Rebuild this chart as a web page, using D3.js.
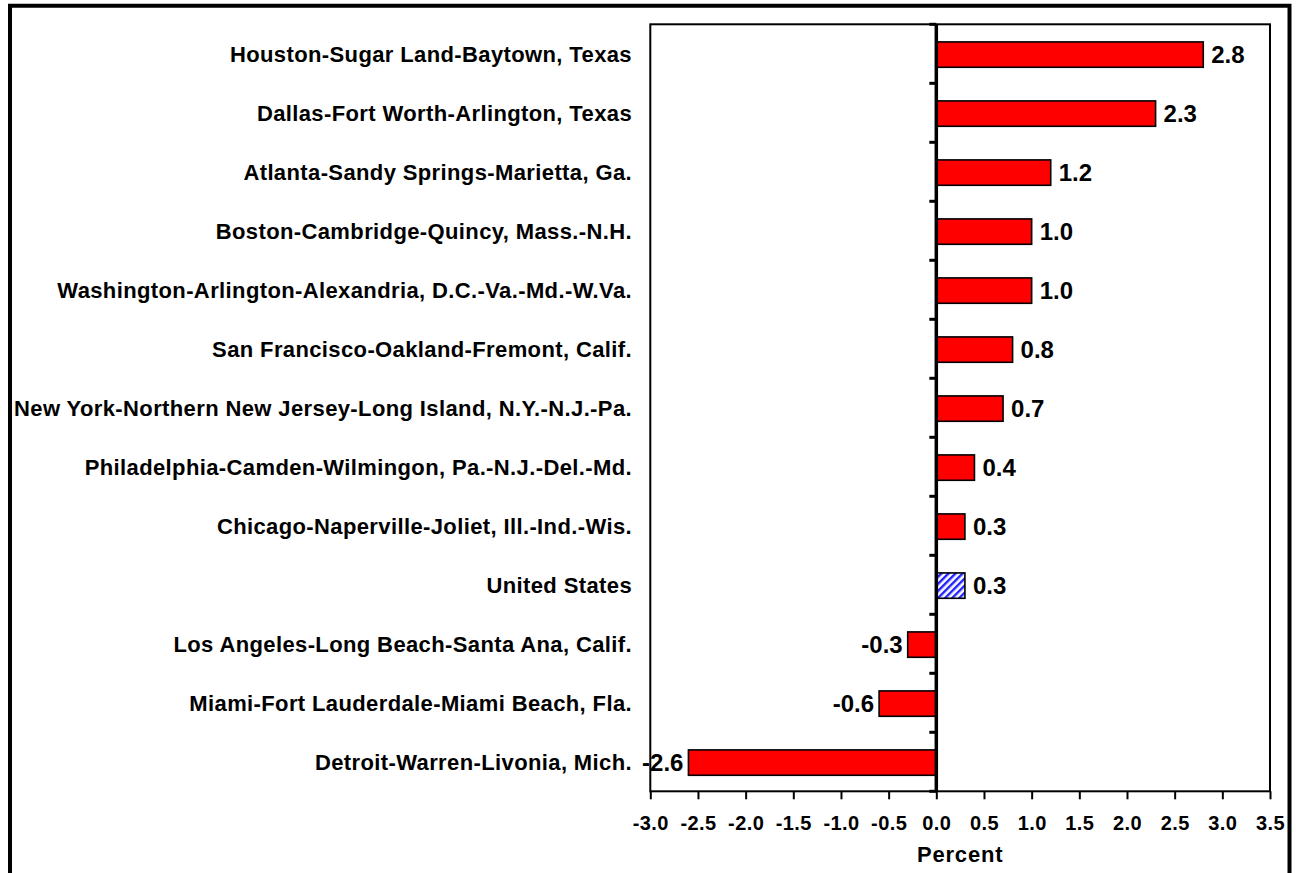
<!DOCTYPE html>
<html>
<head>
<meta charset="utf-8">
<script src="https://cdn.jsdelivr.net/npm/d3@7"></script>
<style>
  html, body { margin: 0; padding: 0; background: #fff; }
  svg { display: block; }
  text { font-family: "Liberation Sans", Arial, sans-serif; font-weight: bold; fill: #000; }
</style>
</head>
<body>
<svg id="chart" width="1296" height="873"></svg>
<script>
// Employment change by metropolitan area, percent
const categories = [
  "Houston-Sugar Land-Baytown, Texas",
  "Dallas-Fort Worth-Arlington, Texas",
  "Atlanta-Sandy Springs-Marietta, Ga.",
  "Boston-Cambridge-Quincy, Mass.-N.H.",
  "Washington-Arlington-Alexandria, D.C.-Va.-Md.-W.Va.",
  "San Francisco-Oakland-Fremont, Calif.",
  "New York-Northern New Jersey-Long Island, N.Y.-N.J.-Pa.",
  "Philadelphia-Camden-Wilmingon, Pa.-N.J.-Del.-Md.",
  "Chicago-Naperville-Joliet, Ill.-Ind.-Wis.",
  "United States",
  "Los Angeles-Long Beach-Santa Ana, Calif.",
  "Miami-Fort Lauderdale-Miami Beach, Fla.",
  "Detroit-Warren-Livonia, Mich."
];
const values = [2.8, 2.3, 1.2, 1.0, 1.0, 0.8, 0.7, 0.4, 0.3, 0.3, -0.3, -0.6, -2.6];
const nationalCategory = "United States";
const xTicks = [-3.0, -2.5, -2.0, -1.5, -1.0, -0.5, 0.0, 0.5, 1.0, 1.5, 2.0, 2.5, 3.0, 3.5];
const xTitle = "Percent";

const data = categories.map((c, i) => ({ name: c, value: values[i] }));

// Number format with a plain hyphen for negatives
const locale = d3.formatLocale({ decimal: ".", thousands: ",", grouping: [3], currency: ["$", ""], minus: "-" });
const fmt = locale.format(".1f");

const svg = d3.select("#chart");

// Hatched fill for the national total
const defs = svg.append("defs");
const pat = defs.append("pattern")
  .attr("id", "hatch")
  .attr("patternUnits", "userSpaceOnUse")
  .attr("width", 5).attr("height", 5)
  .attr("patternTransform", "rotate(45)");
pat.append("rect").attr("width", 5).attr("height", 5).attr("fill", "#fff");
pat.append("rect").attr("x", 0).attr("y", 0).attr("width", 2.4).attr("height", 5).attr("fill", "#1f1fff");

// Outer frame
svg.append("rect")
  .attr("x", 10).attr("y", 5.75)
  .attr("width", 1279.5).attr("height", 900)
  .attr("fill", "none").attr("stroke", "#000").attr("stroke-width", 4);

const plot = { left: 650.3, right: 1270, top: 24.3, bottom: 791.3 };

const x = d3.scaleLinear().domain([-3, 3.5]).range([plot.left, plot.right]);
const y = d3.scaleBand().domain(categories).range([plot.top + 0.8, plot.bottom + 0.8]).padding(0);
const barH = y.bandwidth() * 0.43;

// Plot area frame
svg.append("rect")
  .attr("x", plot.left).attr("y", plot.top)
  .attr("width", plot.right - plot.left).attr("height", plot.bottom - plot.top)
  .attr("fill", "none").attr("stroke", "#000").attr("stroke-width", 2);

// Bars
svg.append("g").selectAll("rect")
  .data(data)
  .join("rect")
  .attr("x", d => x(Math.min(0, d.value)))
  .attr("width", d => Math.abs(x(d.value) - x(0)))
  .attr("y", d => y(d.name) + (y.bandwidth() - barH) / 2)
  .attr("height", barH)
  .attr("fill", d => d.name === nationalCategory ? "url(#hatch)" : "#ff0000")
  .attr("stroke", "#000")
  .attr("stroke-width", 1.6);

// Zero line with category separators
const zeroX = x(0);
svg.append("line")
  .attr("x1", zeroX).attr("x2", zeroX)
  .attr("y1", plot.top).attr("y2", plot.bottom)
  .attr("stroke", "#000").attr("stroke-width", 3.5);

const sepY = categories.map(c => y(c) - 0.8).concat([plot.bottom]);
svg.append("g").selectAll("line")
  .data(sepY)
  .join("line")
  .attr("x1", zeroX - 7).attr("x2", zeroX)
  .attr("y1", d => d).attr("y2", d => d)
  .attr("stroke", "#000").attr("stroke-width", 3);

// Bottom axis
const xAxis = d3.axisBottom(x)
  .tickValues(xTicks)
  .tickFormat(fmt)
  .tickSize(8)
  .tickPadding(17);
const gx = svg.append("g")
  .attr("transform", `translate(0,${plot.bottom})`)
  .call(xAxis);
gx.select(".domain").remove();
gx.selectAll(".tick line").attr("stroke", "#000").attr("stroke-width", 2);
gx.selectAll(".tick text")
  .style("font-family", '"Liberation Sans", Arial, sans-serif')
  .style("font-weight", "bold")
  .style("font-size", "20px")
  .style("letter-spacing", "0.4px")
  .attr("fill", "#000");

svg.append("text")
  .attr("x", (plot.left + plot.right) / 2)
  .attr("y", 862)
  .attr("text-anchor", "middle")
  .style("font-size", "22px")
  .style("letter-spacing", "0.8px")
  .text(xTitle);

// Category labels
svg.append("g").selectAll("text")
  .data(data)
  .join("text")
  .attr("x", 632)
  .attr("y", d => y(d.name) + y.bandwidth() / 2)
  .attr("dy", "0.35em")
  .attr("text-anchor", "end")
  .style("font-size", "22px")
  .style("letter-spacing", "0.38px")
  .text(d => d.name);

// Value labels
svg.append("g").selectAll("text")
  .data(data)
  .join("text")
  .attr("x", d => d.value >= 0 ? x(d.value) + 8 : x(d.value) - 5)
  .attr("y", d => y(d.name) + y.bandwidth() / 2)
  .attr("dy", "0.36em")
  .attr("text-anchor", d => d.value >= 0 ? "start" : "end")
  .style("font-size", "24px")
  .text(d => fmt(d.value));
</script>
</body>
</html>
